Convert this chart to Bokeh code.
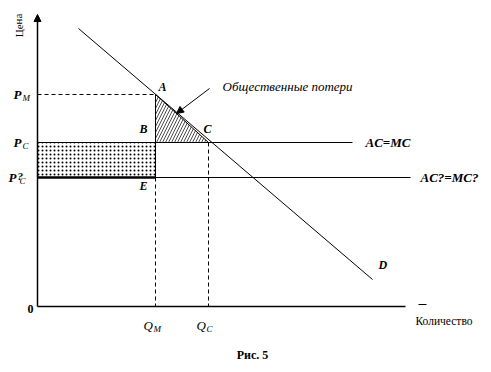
from bokeh.plotting import figure
from bokeh.models import Range1d, Arrow, NormalHead
from bokeh.core.properties import value
from bokeh.embed import file_html
from bokeh.resources import INLINE

# Economic quantities (data units)
Q_M = 118
Q_C = 171
P_M = 212
P_C = 164
P_C2 = 129
demand_q = [41, 335]
demand_p = [278, 27]
ac_mc_end = 315
ac2_mc2_end = 373
x_axis_end = 368
y_axis_end = 292

FONT = value("Liberation Serif")

p = figure(width=485, height=366, output_backend="svg", toolbar_location=None,
           x_range=Range1d(-37, 448), y_range=Range1d(-60, 306),
           min_border=0, outline_line_color=None)
p.axis.visible = False
p.grid.visible = False
p.background_fill_color = "white"
p.border_fill_color = "white"

# dotted rectangle
p.quad(left=[0], right=[Q_M], bottom=[P_C2], top=[P_C], fill_color=None,
       line_color=None, hatch_pattern="dot", hatch_scale=4, hatch_weight=0.5,
       hatch_color="black")
# hatched deadweight loss triangle
p.patch([Q_M, Q_M, Q_C], [P_M, P_C, P_C], fill_color=None, line_color="black",
        line_width=1, hatch_pattern="/", hatch_scale=6, hatch_weight=0.7,
        hatch_color="black")

# axes
p.line([0, x_axis_end], [0, 0], line_color="black", line_width=1.5)
p.add_layout(Arrow(end=NormalHead(size=7, fill_color="black", line_color="black"),
                   x_start=0, y_start=0, x_end=0, y_end=y_axis_end,
                   line_color="black", line_width=1.5))
p.line([x_axis_end + 13, x_axis_end + 21], [2, 2], line_color="black", line_width=1)

# demand
p.line(demand_q, demand_p, line_color="black", line_width=1)
# cost lines
p.line([0, ac_mc_end], [P_C, P_C], line_color="black", line_width=1)
p.line([0, ac2_mc2_end], [P_C2, P_C2], line_color="black", line_width=1)
p.line([0, Q_M], [P_C2, P_C2], line_color="black", line_width=2.5)
p.line([Q_M, Q_M], [P_C, P_C2], line_color="black", line_width=1)

# dashed guides
p.line([0, Q_M], [P_M, P_M], line_color="black", line_dash="4 3", line_width=1)
p.line([Q_M, Q_M], [P_C2, 0], line_color="black", line_dash="4 3", line_width=1)
p.line([Q_C, Q_C], [P_C, 0], line_color="black", line_dash="4 3", line_width=1)

# annotation arrow
p.add_layout(Arrow(end=NormalHead(size=7, fill_color="black", line_color="black"),
                   x_start=172, y_start=218, x_end=139, y_end=193,
                   line_color="black", line_width=1))

def txt(x, y, s, size="12px", style="bold italic", align="left", angle=0.0):
    p.text([x], [y], text=[s], text_font=FONT, text_font_size=size,
           text_font_style=style, text_align=align, text_baseline="middle",
           text_color="black", angle=angle)

txt(121, 220, "A")
txt(102, 178, "B")
txt(166, 178, "C")
txt(102, 121, "E")
txt(341, 42, "D")
txt(328, 164, "AC=MC", size="13px")
txt(383, 129, "AC?=MC?", size="13px")
txt(185, 220, "Общественные потери", size="13px", style="italic")

txt(-24, 212, "P", size="13px")
txt(-15, 209, "M", size="9px", style="italic")
txt(-24, 164, "P", size="13px")
txt(-15, 161, "C", size="9px", style="italic")
txt(-29, 129, "P", size="13px")
txt(-20, 131, "?", size="11px")
txt(-18, 126, "C", size="9px", style="italic")

txt(106, -19, "Q", size="13px", style="italic")
txt(116, -22, "M", size="9px", style="italic")
txt(159, -19, "Q", size="13px", style="italic")
txt(169, -22, "C", size="9px", style="italic")

txt(-7, -2, "0", size="12px", style="bold", align="center")
txt(378, -14, "Количество", size="11.5px", style="normal")
txt(-19, 281, "Цена", size="11px", style="normal", align="center", angle=1.5708)
txt(215, -48, "Рис. 5", size="12px", style="bold", align="center")

open("out.html", "w").write(file_html(p, INLINE))
